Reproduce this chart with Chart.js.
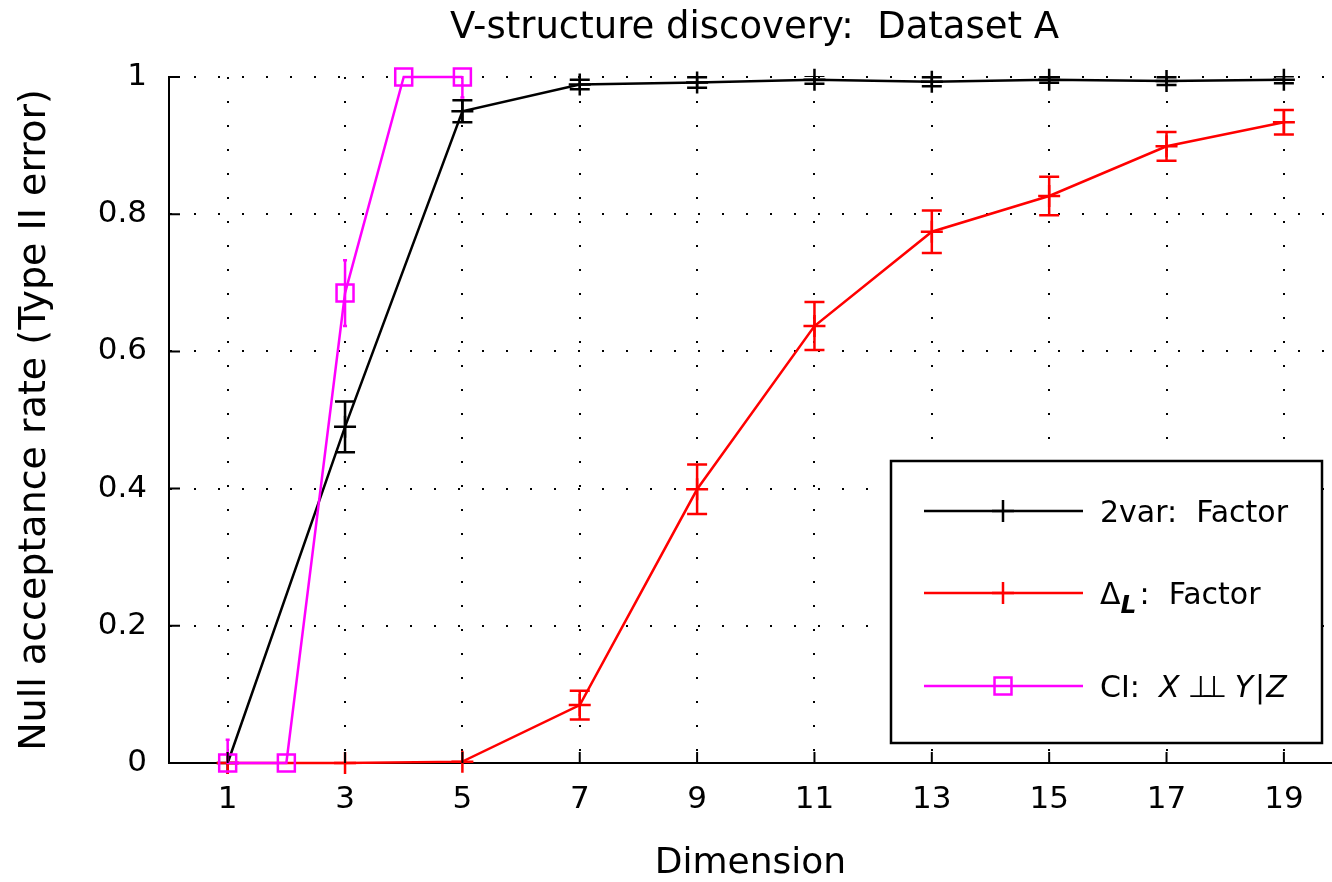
<!DOCTYPE html>
<html>
<head>
<meta charset="utf-8">
<script src="https://cdn.jsdelivr.net/npm/chart.js@4.4.1/dist/chart.umd.min.js"></script>
<style>
html,body{margin:0;padding:0;overflow:hidden;background:#fff;}
canvas{display:block;}
</style>
</head>
<body>
<canvas id="c" width="1332" height="882" style="width:1332px;height:882px"></canvas>
<script>
// ---- data ----
const dims = [1, 3, 5, 7, 9, 11, 13, 15, 17, 19];
const twoVarFactor = [0, 0.490, 0.950, 0.989, 0.992, 0.996, 0.993, 0.996, 0.994, 0.996];
const twoVarErr    = [0, 0.037, 0.016, 0.007, 0.0075, 0.006, 0.0065, 0.0045, 0.0055, 0.005];
const deltaLFactor = [0, 0, 0.002, 0.0845, 0.399, 0.637, 0.7745, 0.8265, 0.899, 0.934];
const deltaLErr    = [0, 0, 0, 0.021, 0.036, 0.035, 0.031, 0.028, 0.021, 0.018];
const ciDims = [1, 2, 3, 4, 5];
const ciValues = [0, 0, 0.685, 1, 1];
const ciErr    = [0.034, 0, 0.048, 0, 0.03];
const xTicks = [1, 3, 5, 7, 9, 11, 13, 15, 17, 19];
const yTicks = [0, 0.2, 0.4, 0.6, 0.8, 1];
const yTickLabels = ['0', '0.2', '0.4', '0.6', '0.8', '1'];
const titleText = 'V-structure discovery:  Dataset A';
const xTitle = 'Dimension';
const yTitle = 'Null acceptance rate (Type II error)';

const FONT = "'DejaVu Sans', sans-serif";

function pts(xs, ys) { return xs.map((x, i) => ({x: x, y: ys[i]})); }

const errorBars = {
  id: 'errorBars',
  afterDatasetsDraw(chart) {
    const {ctx, chartArea, scales} = chart;
    ctx.save();
    ctx.beginPath();
    ctx.rect(chartArea.left - 2, chartArea.top - 1, chartArea.right - chartArea.left + 4, chartArea.bottom - chartArea.top + 2);
    ctx.clip();
    chart.data.datasets.forEach(ds => {
      if (!ds.errors) return;
      ctx.strokeStyle = ds.borderColor;
      ctx.lineWidth = 2.5;
      ds.data.forEach((p, i) => {
        const e = ds.errors[i];
        if (!e) return;
        const x = scales.x.getPixelForValue(p.x);
        const y1 = scales.y.getPixelForValue(p.y - e);
        const y2 = scales.y.getPixelForValue(p.y + e);
        const w = ds.capHalf;
        ctx.beginPath();
        ctx.moveTo(x, y1); ctx.lineTo(x, y2);
        ctx.moveTo(x - w, y1); ctx.lineTo(x + w, y1);
        ctx.moveTo(x - w, y2); ctx.lineTo(x + w, y2);
        ctx.stroke();
      });
    });
    ctx.restore();
  }
};

const innerTicks = {
  id: 'innerTicks',
  afterDraw(chart) {
    const {ctx, chartArea, scales} = chart;
    ctx.save();
    ctx.strokeStyle = '#000';
    ctx.lineWidth = 2;
    ctx.beginPath();
    xTicks.forEach(v => {
      const x = scales.x.getPixelForValue(v);
      ctx.moveTo(x, chartArea.bottom); ctx.lineTo(x, chartArea.bottom - 11);
    });
    yTicks.forEach(v => {
      const y = scales.y.getPixelForValue(v);
      ctx.moveTo(chartArea.left, y); ctx.lineTo(chartArea.left + 11, y);
    });
    ctx.stroke();
    ctx.restore();
  }
};

const plotTitle = {
  id: 'plotTitle',
  afterDraw(chart) {
    const {ctx, chartArea} = chart;
    ctx.save();
    ctx.fillStyle = '#000';
    ctx.font = '37px ' + FONT;
    ctx.textAlign = 'center';
    ctx.textBaseline = 'middle';
    ctx.fillText(titleText, (chartArea.left + chartArea.right) / 2 + 4, 28);
    ctx.restore();
  }
};

const boxLegend = {
  id: 'boxLegend',
  afterDraw(chart) {
    const {ctx} = chart;
    ctx.save();
    ctx.fillStyle = '#fff';
    ctx.fillRect(891, 461, 431, 282);
    ctx.strokeStyle = '#000';
    ctx.lineWidth = 2.5;
    ctx.strokeRect(891, 461, 431, 282);
    const rows = [511, 593, 686];
    chart.data.datasets.forEach((ds, i) => {
      const y = rows[i];
      ctx.strokeStyle = ds.borderColor;
      ctx.lineWidth = 2.5;
      ctx.beginPath(); ctx.moveTo(924, y); ctx.lineTo(1083, y); ctx.stroke();
      ctx.fillStyle = 'rgba(0,0,0,0)';
      ctx.lineWidth = 2.5;
      Chart.helpers.drawPoint(ctx, {pointStyle: ds.pointStyle, radius: ds.pointRadius, borderWidth: 2.5}, 1003, y);
      ctx.fillStyle = '#000';
      ctx.textBaseline = 'alphabetic';
      ctx.textAlign = 'left';
      const base = y + 11;
      let x = 1100;
      ds.legendParts.forEach(part => {
        ctx.font = part.font;
        ctx.fillText(part.t, x, base + (part.dy || 0));
        x += ctx.measureText(part.t).width + (part.adv || 0);
      });
    });
    ctx.restore();
  }
};

const F = "30px " + FONT;
const FI = "italic 30px " + FONT;

const chart = new Chart(document.getElementById('c'), {
  type: 'line',
  data: {
    datasets: [
      {
        label: '2var: Factor',
        data: pts(dims, twoVarFactor),
        errors: twoVarErr, capHalf: 10,
        borderColor: '#000', backgroundColor: '#000',
        borderWidth: 2.5, pointStyle: 'cross', pointRadius: 11, pointBorderWidth: 2.5,
        clip: false, order: 3,
        legendParts: [{t: '2var:  Factor', font: F}]
      },
      {
        label: 'ΔL: Factor',
        data: pts(dims, deltaLFactor),
        errors: deltaLErr, capHalf: 10,
        borderColor: '#ff0000', backgroundColor: '#ff0000',
        borderWidth: 2.5, pointStyle: 'cross', pointRadius: 11, pointBorderWidth: 2.5,
        clip: false, order: 2,
        legendParts: [{t: 'Δ', font: F}, {t: 'L', font: 'italic bold 25px ' + FONT, dy: 9, adv: 3}, {t: ':  Factor', font: F}]
      },
      {
        label: 'CI: X ⊥⊥ Y|Z',
        data: pts(ciDims, ciValues),
        errors: ciErr, capHalf: 2,
        borderColor: '#ff00ff', backgroundColor: 'rgba(0,0,0,0)',
        borderWidth: 2.5, pointStyle: 'rect', pointRadius: 12, pointBorderWidth: 2.5,
        clip: false, order: 1,
        legendParts: [{t: 'CI:  ', font: F}, {t: 'X', font: FI, adv: 8}, {t: '⊥', font: F, adv: -13}, {t: '⊥', font: F, adv: 8}, {t: 'Y', font: FI, adv: 2}, {t: '|', font: F, adv: 1}, {t: 'Z', font: FI}]
      }
    ]
  },
  options: {
    responsive: false,
    animation: false,
    devicePixelRatio: 1,
    layout: {autoPadding: false, padding: {left: 0, right: 0, top: 77, bottom: 0}},
    plugins: {
      legend: {display: false},
      tooltip: {enabled: false},
      title: {display: false}
    },
    elements: {line: {tension: 0}},
    scales: {
      x: {
        type: 'linear', min: 0, max: 19.82,
        afterBuildTicks: s => { s.ticks = xTicks.map(v => ({value: v})); },
        afterFit: s => { s.height = 119; s.paddingLeft = 0; s.paddingRight = 0; },
        ticks: {color: '#000', font: {family: FONT, size: 31, lineHeight: 1.2}, padding: 18, maxRotation: 0, autoSkip: false,
                callback: v => String(v)},
        grid: {color: '#000', lineWidth: 2, drawTicks: false},
        border: {display: true, color: '#000', width: 2, dash: [2, 22]},
        title: {display: true, text: xTitle, color: '#000', font: {family: FONT, size: 36, lineHeight: 1}, padding: {top: 3, bottom: 0}}
      },
      y: {
        type: 'linear', min: 0, max: 1,
        afterBuildTicks: s => { s.ticks = yTicks.map(v => ({value: v})); },
        afterFit: s => { s.width = 169; s.paddingTop = 0; s.paddingBottom = 0; },
        ticks: {color: '#000', font: {family: FONT, size: 31}, padding: 22, autoSkip: false,
                callback: v => yTickLabels[yTicks.indexOf(v)]},
        grid: {color: '#000', lineWidth: 2, drawTicks: false},
        border: {display: true, color: '#000', width: 2, dash: [2, 22]},
        title: {display: true, text: yTitle, color: '#000', font: {family: FONT, size: 38, lineHeight: 1}, padding: {top: 16, bottom: 0}}
      }
    }
  },
  plugins: [errorBars, innerTicks, plotTitle, boxLegend]
});
</script>
</body>
</html>
